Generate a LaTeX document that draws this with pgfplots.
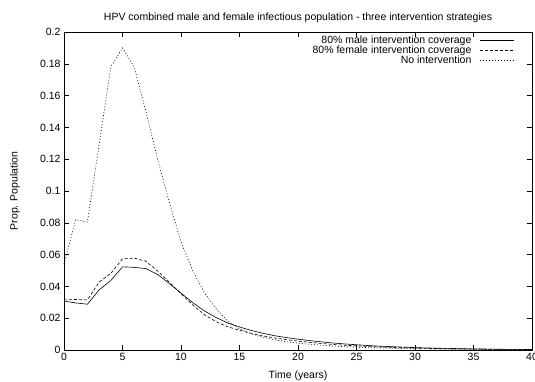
\documentclass[border=0pt]{standalone}
\usepackage{pgfplots}
\pgfplotsset{compat=1.18}
\usepackage{fontspec}
\setmainfont{Liberation Sans}
\begin{document}
\begin{tikzpicture}
\useasboundingbox (-64pt,-32pt) rectangle (471pt,350pt);
\begin{axis}[
  scale only axis,
  width=468pt, height=318pt,
  xmin=0, xmax=40, ymin=0, ymax=0.2,
  xtick={0,5,...,40},
  ytick={0,0.02,...,0.2},
  scaled y ticks=false,
  yticklabel style={/pgf/number format/fixed, /pgf/number format/precision=2},
  /pgf/number format/assume math mode=true,
  tick align=inside,
  major tick length=5pt,
  tick style={black, line width=0.5pt},
  axis line style={line width=0.8pt},
  ticklabel style={font=\fontsize{10.5}{11}\selectfont},
  xlabel style={font=\fontsize{10.5}{11}\selectfont, at={(axis description cs:0.5,-0.08)}, anchor=center},
  ylabel style={font=\fontsize{10.5}{11}\selectfont, at={(axis description cs:-0.105,0.5)}, anchor=center},
  xlabel={Time (years)},
  ylabel={Prop. Population},
  legend plot pos=right,
  legend cell align=right,
  legend style={at={(axis description cs:0.962,0.995)}, anchor=north east, draw=none, fill=none,
    font=\fontsize{10.5}{11}\selectfont, row sep=-3pt, column sep=6pt, inner sep=0pt},
  legend image code/.code={\draw[#1] (0pt,0pt) -- (34pt,0pt);},
  clip=false,
]
\node[font=\fontsize{10.5}{11}\selectfont] at (axis description cs:0.5,1.045)
  {HPV combined male and female infectious population - three intervention strategies};
\addplot[black, line width=0.6pt] coordinates {
(0,0.0308) (1,0.0296) (2,0.0288) (3,0.0378) (4,0.0437) (5,0.0523) (6,0.0520) (7,0.0512)
(8,0.0475) (9,0.0418) (10,0.0358) (11,0.0298) (12,0.0246) (13,0.0204) (14,0.0170)
(15,0.0145) (16,0.0123) (17,0.0105) (18,0.0090) (19,0.0078) (20,0.0068) (21,0.0059)
(22,0.0051) (23,0.0044) (24,0.0038) (25,0.0033) (26,0.0028) (27,0.0024) (28,0.0021)
(29,0.0018) (30,0.0015) (31,0.0013) (32,0.0011) (33,0.0010) (34,0.0008) (35,0.0007)
(36,0.0006) (37,0.0005) (38,0.0004) (39,0.0004) (40,0.0003)};
\addlegendentry{80\% male intervention coverage}
\addplot[black, line width=0.6pt, dash pattern=on 3pt off 2pt] coordinates {
(0,0.0315) (1,0.0318) (2,0.0315) (3,0.0427) (4,0.0482) (5,0.0573) (6,0.0578) (7,0.0558)
(8,0.0496) (9,0.0427) (10,0.0354) (11,0.0283) (12,0.0222) (13,0.0178) (14,0.0146)
(15,0.0124) (16,0.0105) (17,0.0089) (18,0.0076) (19,0.0065) (20,0.0056) (21,0.0048)
(22,0.0041) (23,0.0035) (24,0.0030) (25,0.0026) (26,0.0022) (27,0.0019) (28,0.0016)
(29,0.0014) (30,0.0012) (31,0.0010) (32,0.0009) (33,0.0008) (34,0.0007) (35,0.0006)
(36,0.0005) (37,0.0004) (38,0.0004) (39,0.0003) (40,0.0003)};
\addlegendentry{80\% female intervention coverage}
\addplot[black, line width=0.6pt, dash pattern=on 1pt off 2pt] coordinates {
(0,0.054) (1,0.082) (2,0.0805) (3,0.129) (4,0.178) (5,0.190) (6,0.178) (7,0.150)
(8,0.120) (9,0.093) (10,0.068) (11,0.050) (12,0.036) (13,0.026) (14,0.0180)
(15,0.0133) (16,0.0102) (17,0.0080) (18,0.0064) (19,0.0052) (20,0.0043) (21,0.0036)
(22,0.0030) (23,0.0025) (24,0.0021) (25,0.0018) (26,0.0015) (27,0.0013) (28,0.0011)
(29,0.0009) (30,0.0008) (31,0.0007) (32,0.0006) (33,0.0005) (34,0.0004) (35,0.0004)
(36,0.0003) (37,0.0003) (38,0.0002) (39,0.0002) (40,0.0002)};
\addlegendentry{No intervention}
\end{axis}
\end{tikzpicture}
\end{document}
